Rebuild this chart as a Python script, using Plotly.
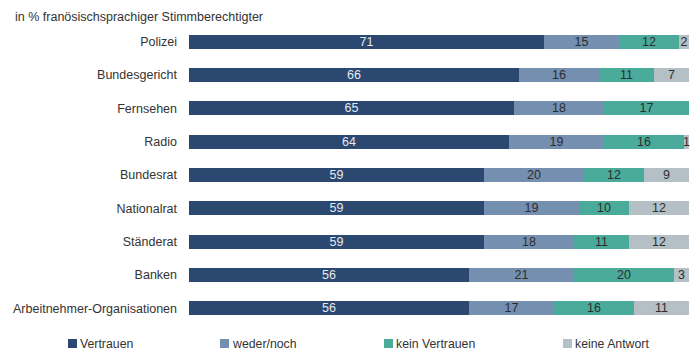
import plotly.graph_objects as go

# Vertrauen in Institutionen, Anteile in Prozent
institutions = [
    "Polizei", "Bundesgericht", "Fernsehen", "Radio", "Bundesrat",
    "Nationalrat", "Ständerat", "Banken", "Arbeitnehmer-Organisationen",
]
vertrauen = [71, 66, 65, 64, 59, 59, 59, 56, 56]
weder_noch = [15, 16, 18, 19, 20, 19, 18, 21, 17]
kein_vertrauen = [12, 11, 17, 16, 12, 10, 11, 20, 16]
keine_antwort = [2, 7, None, 1, 9, 12, 12, 3, 11]

series_names = ["Vertrauen", "weder/noch", "kein Vertrauen", "keine Antwort"]
series_values = [vertrauen, weder_noch, kein_vertrauen, keine_antwort]
colors = ["#2b4871", "#748faf", "#4aab9b", "#b4bfc6"]
text_colors = ["#e4e9f0", "#2d2d2d", "#2d2d2d", "#2d2d2d"]

FONT = "Liberation Sans, Arial, sans-serif"
W, H = 691, 350
L, R, T, B = 189, 2, 25, 25

fig = go.Figure()
for name, vals, col, tcol in zip(series_names, series_values, colors, text_colors):
    fig.add_trace(go.Bar(
        y=institutions,
        x=vals,
        name=name,
        orientation="h",
        marker=dict(color=col, line=dict(width=0)),
        text=[("" if v is None else str(v)) for v in vals],
        textposition="inside",
        insidetextanchor="middle",
        textangle=0,
        textfont=dict(family=FONT, size=12.5, color=tcol),
        cliponaxis=False,
        showlegend=False,
        hoverinfo="skip",
    ))

# Legend drawn as coloured squares with labels underneath the bars
legend_x = [68, 220, 384, 563]
legend_y = 343.5
plot_w = W - L - R
plot_h = H - T - B
for name, col, px in zip(series_names, colors, legend_x):
    x0 = (px - L) / plot_w
    x1 = (px + 9 - L) / plot_w
    y0 = (H - B - (legend_y + 4.5)) / plot_h
    y1 = (H - B - (legend_y - 4.5)) / plot_h
    fig.add_shape(type="rect", xref="paper", yref="paper",
                  x0=x0, x1=x1, y0=y0, y1=y1,
                  fillcolor=col, line=dict(width=0))
    fig.add_annotation(xref="paper", yref="paper",
                       x=(px + 10 - L) / plot_w, y=(H - B - legend_y) / plot_h,
                       text=name, showarrow=False, xanchor="left", yanchor="middle",
                       font=dict(family=FONT, size=12.3, color="#333333"))

fig.add_annotation(xref="paper", yref="paper",
                   x=(13 - L) / plot_w, y=(H - B - 17) / plot_h,
                   text="in % franösischsprachiger Stimmberechtigter",
                   showarrow=False, xanchor="left", yanchor="middle",
                   font=dict(family=FONT, size=12.5, color="#333333"))

fig.update_layout(
    width=W, height=H,
    margin=dict(l=L, r=R, t=T, b=B, pad=0),
    barmode="stack",
    bargap=0.58,
    plot_bgcolor="white",
    paper_bgcolor="white",
    font=dict(family=FONT, size=12.5, color="#333333"),
    uniformtext=dict(minsize=12.5, mode="show"),
    xaxis=dict(range=[0, 100], visible=False, fixedrange=True),
    yaxis=dict(autorange="reversed", showgrid=False, showline=False,
               ticks="", ticklabelstandoff=11,
               tickfont=dict(family=FONT, size=12.5, color="#333333")),
)

fig.write_html("out.html", config={"displayModeBar": False})
